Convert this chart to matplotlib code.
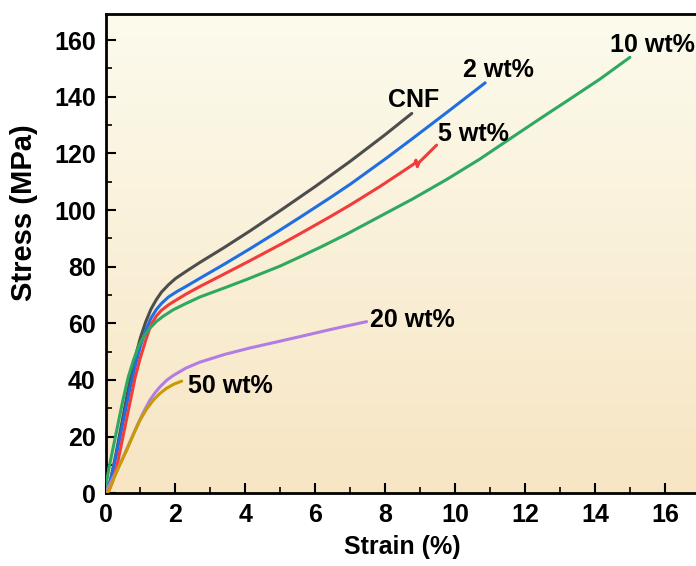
import numpy as np
import matplotlib
matplotlib.use("Agg")
import matplotlib.pyplot as plt
from matplotlib.colors import LinearSegmentedColormap
from matplotlib.ticker import MultipleLocator

plt.rcParams['font.family'] = ['Liberation Sans', 'DejaVu Sans']
plt.rcParams['font.weight'] = 'bold'

# ---- data (strain %, stress MPa) ----
cnf_x = [0, 0.05, 0.15, 0.3, 0.5, 0.7, 0.85, 1.0, 1.15, 1.3, 1.45, 1.6, 1.8, 2.0, 2.3, 2.7, 3.4, 4.13, 5.0, 6.0, 7.0, 8.0, 8.76]
cnf_y = [0, 1, 5, 14, 27, 40, 48, 55, 60.5, 65, 68.3, 71, 73.6, 75.8, 78.3, 81.5, 86.8, 92.6, 99.8, 108.3, 117.2, 126.6, 134.1]

w2_x = [0, 0.05, 0.15, 0.3, 0.5, 0.7, 0.85, 1.0, 1.15, 1.3, 1.45, 1.6, 1.8, 2.04, 2.3, 2.7, 3.4, 4.13, 4.9, 5.56, 6.42, 7.0, 8.0, 8.8, 9.8, 10.86]
w2_y = [0, 1, 5, 13, 25, 37, 45, 52, 57.5, 61.8, 64.8, 67, 69.3, 71.2, 73, 75.9, 80.9, 86.3, 92.2, 97.4, 104.3, 109.1, 118.0, 125.4, 134.8, 144.9]

w5_x = [0, 0.08, 0.2, 0.35, 0.5, 0.7, 0.85, 1.0, 1.15, 1.3, 1.45, 1.6, 1.8, 1.94, 2.3, 2.7, 3.3, 4.13, 5.09, 5.56, 6.42, 7.0, 7.85, 8.5, 8.85, 8.88, 8.92, 8.97, 9.2, 9.47]
w5_y = [0, 0.5, 4, 11, 20, 32, 41, 48, 54, 59.5, 62.5, 64.6, 66.5, 67.6, 70.3, 73.0, 76.8, 82.1, 88.4, 91.6, 97.6, 101.8, 108.3, 113.6, 116.5, 117.6, 115.3, 116.8, 119.6, 122.9]

w10_x = [0, 0.03, 0.1, 0.2, 0.35, 0.5, 0.65, 0.8, 0.95, 1.1, 1.27, 1.45, 1.65, 1.94, 2.3, 2.7, 3.4, 4.04, 4.99, 5.57, 6.2, 6.9, 7.66, 8.8, 9.76, 10.71, 11.25, 12.0, 12.62, 13.09, 14.14, 15.0]
w10_y = [0, 4, 9, 15, 24, 33, 41, 47, 52, 55.5, 58.3, 60.6, 62.5, 64.8, 67, 69.3, 72.5, 75.5, 80.2, 83.5, 87.2, 91.5, 96.5, 104.0, 110.8, 118.0, 122.5, 128.7, 133.8, 137.6, 146.2, 153.9]

w20_x = [0, 0.13, 0.3, 0.51, 0.7, 0.89, 1.08, 1.27, 1.42, 1.56, 1.75, 1.94, 2.3, 2.7, 3.4, 4.13, 4.85, 5.56, 6.5, 7.47]
w20_y = [0, 3.5, 7.5, 12.9, 18.2, 23.5, 28.5, 32.9, 35.5, 37.6, 39.9, 41.6, 44.2, 46.3, 49.0, 51.3, 53.3, 55.3, 58.0, 60.6]

w50_x = [0, 0.1, 0.22, 0.4, 0.61, 0.8, 0.99, 1.18, 1.37, 1.56, 1.75, 1.95, 2.18]
w50_y = [0, 1.0, 4.7, 9.8, 15.3, 20.8, 25.9, 29.8, 32.9, 35.3, 37.1, 38.5, 39.6]

labels = ["CNF", "2 wt%", "5 wt%", "10 wt%", "20 wt%", "50 wt%"]
label_pos = [(8.08, 138.8), (10.23, 149.4), (9.51, 127.0), (14.43, 158.2), (7.57, 61.2), (2.36, 37.9)]
colors = ["#4d4d4d", "#1f6fe3", "#f23c3c", "#2fa862", "#b27de3", "#c99a06"]

series = [(cnf_x, cnf_y), (w2_x, w2_y), (w5_x, w5_y), (w10_x, w10_y), (w20_x, w20_y), (w50_x, w50_y)]

fig = plt.figure(figsize=(6.96, 5.66), dpi=100)
x0_px, xunit_px = 105.5, 34.96
ax_w_px = 17 * xunit_px
ax = fig.add_axes([x0_px/696, (566-493.3)/566, ax_w_px/696, (493.3-14)/566])

xmax, ymax = 17, 169.2
cmap = LinearSegmentedColormap.from_list("bg", ["#fcfbed", "#f7e5c3"])
grad = np.linspace(0, 1, 256).reshape(-1, 1)
ax.imshow(grad, cmap=cmap, aspect='auto', extent=[0, xmax, 0, ymax], origin='upper', zorder=0)

for (xs, ys), c in zip(series, colors):
    ax.plot(xs, ys, color=c, lw=2.2, solid_capstyle='round', solid_joinstyle='round', zorder=3)

for lab, (lx, ly) in zip(labels, label_pos):
    ax.text(lx, ly, lab, fontsize=18, fontweight='bold', ha='left', va='center', zorder=4)

ax.set_xlim(0, xmax)
ax.set_ylim(0, ymax)
ax.xaxis.set_major_locator(MultipleLocator(2))
ax.xaxis.set_minor_locator(MultipleLocator(1))
ax.yaxis.set_major_locator(MultipleLocator(20))
ax.yaxis.set_minor_locator(MultipleLocator(10))
ax.tick_params(which='major', direction='in', length=7, width=1.5, labelsize=18, pad=7)
ax.tick_params(which='minor', direction='in', length=4, width=1.2)
for lab in ax.get_xticklabels() + ax.get_yticklabels():
    lab.set_fontweight('bold')
for s in ax.spines.values():
    s.set_linewidth(2)

ax.set_xlabel("Strain (%)", fontsize=18, fontweight='bold', labelpad=6)
ax.set_ylabel("Stress (MPa)", fontsize=21, fontweight='bold')
ax.yaxis.set_label_coords((38 - x0_px) / ax_w_px, (493.3 - 213) / (493.3 - 14))

fig.savefig("out.png", dpi=100)
